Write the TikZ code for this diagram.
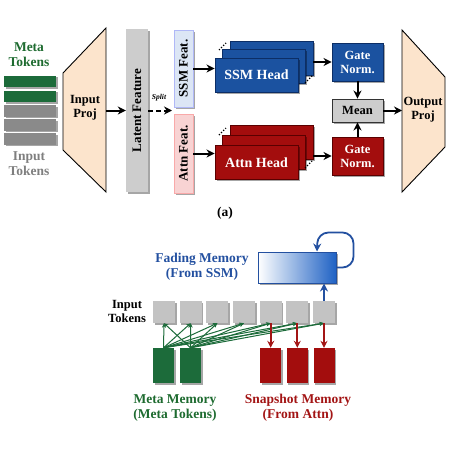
\documentclass[tikz,border=0pt]{standalone}
\usepackage{fontspec}
\setmainfont{Liberation Serif}
\usetikzlibrary{arrows.meta,shadows,calc}
\definecolor{dblue}{HTML}{1B52A0}
\definecolor{dblueB}{HTML}{0C2E66}
\definecolor{dred}{HTML}{A30D0D}
\definecolor{dredB}{HTML}{5A0000}
\definecolor{dgreen}{HTML}{1C6B3A}
\definecolor{tgreen}{HTML}{1E6B30}
\definecolor{tred}{HTML}{A31515}
\definecolor{tblue}{HTML}{2350A0}
\definecolor{tgray}{HTML}{7F7F7F}
\definecolor{peach}{HTML}{FCE4CC}
\definecolor{lgray}{HTML}{CDCDCD}
\definecolor{lblue}{HTML}{DCE6F5}
\definecolor{lpink}{HTML}{F8D3D3}
\definecolor{fblue}{HTML}{1F62C4}
\definecolor{bgray}{HTML}{8A8A8A}
\begin{document}
\begin{tikzpicture}[x=1pt,y=-1pt,
 shd/.style={drop shadow={shadow xshift=1.5pt,shadow yshift=-1.5pt,opacity=0.35,fill=black}},
 tokbar/.style={shd,draw=none,minimum width=52pt,minimum height=11.5pt,inner sep=0pt},
 arr/.style={-{Stealth[length=8pt,width=8pt]},line width=2pt},
 lbl/.style={font=\fontsize{13.5}{15}\selectfont\bfseries,align=center,inner sep=0pt},
 slbl/.style={font=\fontsize{12.5}{14}\selectfont\bfseries,align=center,inner sep=0pt},
 vbox/.style={shd,rotate=90,inner sep=0pt,font=\fontsize{13}{14}\selectfont\bfseries},
 head/.style={shd,inner sep=0pt,minimum width=83pt,minimum height=34pt,line width=0.9pt},
 bhead/.style={head,fill=dblue,draw=dblueB},
 rhead/.style={head,fill=dred,draw=dredB},
 gate/.style={shd,inner sep=0pt,minimum width=51pt,minimum height=38pt,line width=0.9pt,text=white,align=center,font=\fontsize{12.5}{14}\selectfont\bfseries},
 dots/.style={line width=1.3pt,dash pattern=on 1.2pt off 1.8pt},
 tok/.style={shd,fill=lgray!95!black,draw=none,minimum width=22pt,minimum height=22pt,inner sep=0pt},
 mem/.style={shd,draw=none,minimum width=21pt,minimum height=35pt,inner sep=0pt},
 garr/.style={-{Stealth[length=4.5pt,width=4pt]},line width=1pt,draw=dgreen},
 rarr/.style={-{Stealth[length=7pt,width=7pt]},line width=1.8pt,draw=tred},
 barr/.style={-{Stealth[length=8pt,width=8pt]},line width=1.8pt,draw=tblue}
]
\useasboundingbox (0,0) rectangle (450,450);

% ---------- (a) ----------
\node[lbl,text=tgreen] (metalbl) at (29,55) {Meta\\Tokens};
\node[tokbar,fill=dgreen] (bar1) at (30,81.5) {};
\node[tokbar,fill=dgreen] (bar2) at (30,96.5) {};
\node[tokbar,fill=bgray] (bar3) at (30,111) {};
\node[tokbar,fill=bgray] (bar4) at (30,125) {};
\node[tokbar,fill=bgray] (bar5) at (30,139) {};
\node[lbl,text=tgray] (inlbl) at (29,164) {Input\\Tokens};

\draw[fill=peach,line width=0.9pt] (63,73) -- (106,28) -- (106,192) -- (63,150) -- cycle;
\node[slbl] (inproj) at (85,108) {Input\\Proj};
\coordinate (inprojR) at (106,110.5);

\node[vbox,fill=lgray,minimum width=163pt,minimum height=22pt] (latent) at (137,110.5) {Latent Feature};
\draw[arr] (inprojR) -- (latent);

\coordinate (splitend) at (172,110.5);
\draw[arr,dash pattern=on 5pt off 3pt] (latent.south) -- (splitend);
\node[font=\fontsize{7.5}{8}\selectfont\bfseries\itshape] (splitlbl) at (159,98) {Split};

\node[vbox,fill=lblue,draw=lblue!80!blue,minimum width=77pt,minimum height=19pt] (ssmfeat) at (183.5,68.5) {SSM Feat.};
\node[vbox,fill=lpink,draw=lpink!80!red,minimum width=79pt,minimum height=19pt] (attnfeat) at (183.5,153.5) {Attn Feat.};

% SSM head stack
\node[bhead] (ssmback) at (271.5,58) {};
\node[bhead] (ssmmid) at (264,66.5) {};
\node[bhead,text=white,font=\fontsize{14}{15}\selectfont\bfseries] (ssmfront) at (256.5,75) {SSM Head};
\draw[dots] (219,50) -- (226,43);
\draw[dots] (305,83) -- (312,76);

% Attn head stack
\node[rhead] (attnback) at (271.5,142.5) {};
\node[rhead] (attnmid) at (264,152.5) {};
\node[rhead,text=white,font=\fontsize{14}{15}\selectfont\bfseries] (attnfront) at (256.5,162.5) {Attn Head};
\draw[dots] (219,135) -- (226,128);
\draw[dots] (305,168) -- (312,161);

\draw[arr] (ssmfeat.south) -- (ssmfeat.south -| ssmfront.west);
\draw[arr] (attnfeat.south) -- (attnfeat.south -| attnfront.west);

\node[gate,fill=dblue,draw=dblueB] (gates) at (357.5,62) {Gate\\Norm.};
\node[gate,fill=dred,draw=dredB] (gatea) at (357.5,156) {Gate\\Norm.};
\node[shd,fill=lgray,draw=black!80,line width=0.9pt,minimum width=51pt,minimum height=23pt,inner sep=0pt,font=\fontsize{12.5}{14}\selectfont\bfseries] (mean) at (357.5,110.5) {Mean};

\draw[arr] (gates.west -| ssmback.east) -- (gates.west);
\draw[arr] (gatea.west -| attnback.east) -- (gatea.west);
\draw[arr] (gates.south) -- (mean.north);
\draw[arr] (gatea.north) -- (mean.south);

\draw[fill=peach,line width=0.9pt] (402,30) -- (445,77) -- (445,147) -- (402,192) -- cycle;
\node[slbl] (outproj) at (423,110) {Output\\Proj};
\coordinate (outL) at (402,110.5);
\draw[arr] (mean.east) -- (outL);

\node[lbl] (alabel) at (225,213) {(a)};

% ---------- bottom ----------
\node[lbl,text=tblue] (fadelbl) at (202,267) {Fading Memory\\(From SSM)};
\node[shd,left color=white,right color=fblue,draw=tblue,line width=1pt,minimum width=78pt,minimum height=31pt,inner sep=0pt] (fade) at (297,267.5) {};
\draw[barr,rounded corners=11pt] (fade.east) -- ++(17,0) -- ++(0,-35) -- ++(-36,0) -- ($(fade.north)+(20,0)$);

\node[slbl] (tokl) at (127,311) {Input\\Tokens};
\foreach \i/\x in {1/164,2/190.7,3/217.3,4/244,5/270.7,6/297.3,7/324}{
  \node[tok] (tok\i) at (\x,312) {};
}
\draw[barr] (tok7.north) -- (fade.south -| tok7.north);

\node[mem,fill=dgreen] (meta1) at (163.5,365.5) {};
\node[mem,fill=dgreen] (meta2) at (190.5,365.5) {};
\node[mem,fill=dred] (snap1) at (270.7,365.5) {};
\node[mem,fill=dred] (snap2) at (297.3,365.5) {};
\node[mem,fill=dred] (snap3) at (324,365.5) {};

\foreach \m in {meta1,meta2}{
  \foreach \t in {1,...,7}{
    \draw[garr] (\m.north) -- (tok\t.south);
  }
}
\draw[rarr] (tok5.south) -- (snap1.north);
\draw[rarr] (tok6.south) -- (snap2.north);
\draw[rarr] (tok7.south) -- (snap3.north);

\node[lbl,text=tgreen] (metamem) at (175,408) {Meta Memory\\(Meta Tokens)};
\node[lbl,text=tred] (snapmem) at (298,408) {Snapshot Memory\\(From Attn)};
\end{tikzpicture}
\end{document}
